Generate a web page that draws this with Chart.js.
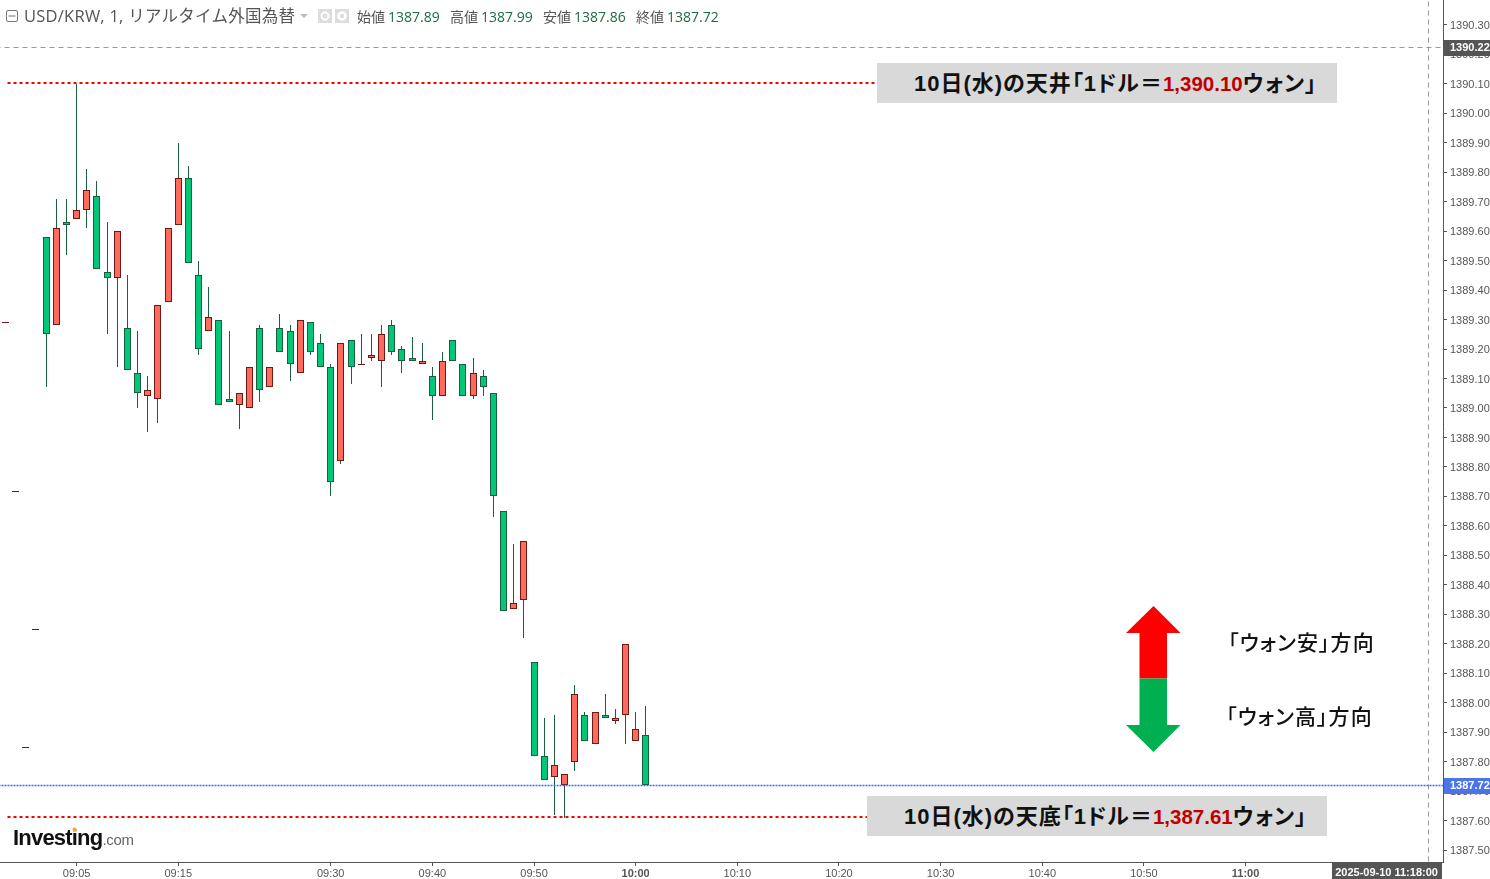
<!DOCTYPE html>
<html lang="ja">
<head>
<meta charset="utf-8">
<title>USD/KRW</title>
<script src="https://cdn.jsdelivr.net/npm/chart.js@4"></script>
<style>
    html, body { margin: 0; padding: 0; background: #fff; }
    #wrap { position: relative; width: 1490px; height: 879px; overflow: hidden; }
    #meuGrafico { position: absolute; left: 0; top: 0; }
    .txt { position: absolute; white-space: nowrap; }
    .head { font-family: 'Open Sans', 'Noto Sans CJK JP', sans-serif; font-size: 16.5px; color: #555; line-height: 18px; letter-spacing: 0.25px; }
    .ohlc { font-family: 'Noto Sans CJK JP', sans-serif; font-size: 14px; color: #555; line-height: 18px; }
    .ohlc span { display: inline-block; width: 93px; }
    .ohlc b { font-family: 'Open Sans', sans-serif; font-size: 14px; font-weight: 400; color: #1b6b45; margin-left: 3px; }
    .box { position: absolute; background: #d9d9d9; height: 40px; width: 460px; box-sizing: border-box;
           font-family: 'Liberation Sans', 'Noto Sans CJK JP', sans-serif; font-weight: 700; font-size: 22px; letter-spacing: 1px; line-height: 41px; color: #111; white-space: nowrap; font-feature-settings: "palt"; }
    .box b { color: #c00000; font-size: 20.5px; letter-spacing: 0; }
    .side { font-family: 'Noto Sans CJK JP', sans-serif; font-weight: 500; font-size: 21px; letter-spacing: 1.1px; color: #111; line-height: 26px; font-feature-settings: "palt"; }
    .logo { font-family: 'Liberation Sans', sans-serif; font-weight: 700; font-size: 22px; color: #111; letter-spacing: -0.8px; }
    .logo span { font-weight: 400; font-size: 15px; color: #666; letter-spacing: -0.3px; }
</style>
</head>
<body>
<div id="wrap">
    <canvas id="meuGrafico" width="1490" height="879"></canvas>

    <svg class="txt" style="left:5px;top:9px" width="14" height="14"><rect x="1.5" y="1.5" width="11" height="11" rx="1.5" fill="none" stroke="#777"/><line x1="3.5" y1="7" x2="10.5" y2="7" stroke="#777"/></svg>
    <div class="txt head" style="left:24px;top:7px">USD/KRW, 1, リアルタイム外国為替</div>
    <svg class="txt" style="left:300px;top:14px" width="8" height="5"><path d="M0 0H8L4 4Z" fill="#bbb"/></svg>
    <svg class="txt" style="left:318px;top:9px" width="32" height="14"><rect width="14" height="14" fill="#ddd"/><circle cx="7" cy="7" r="3.5" fill="none" stroke="#fff" stroke-width="2"/><rect x="17" width="14" height="14" fill="#ddd"/><circle cx="24" cy="7" r="3.5" fill="none" stroke="#fff" stroke-width="2.5"/></svg>
    <div class="txt ohlc" style="left:357px;top:7px"><span>始値<b>1387.89</b></span><span>高値<b>1387.99</b></span><span>安値<b>1387.86</b></span><span>終値<b>1387.72</b></span></div>

    <div class="box" style="left:877px;top:63px;padding-left:37px">10日(水)の天井「1ドル＝<b>1,390.10</b>ウォン」</div>
    <div class="box" style="left:867px;top:796px;padding-left:37px">10日(水)の天底「1ドル＝<b>1,387.61</b>ウォン」</div>

    <svg class="txt" style="left:1126px;top:606px" width="55" height="147">
        <path d="M27.5 0L54.5 27H41V72.5H13.5V27H0Z" fill="#ff0000"/>
        <path d="M13.5 72.5H41V119H54.5L27.5 146L0 119H13.5Z" fill="#00b050"/>
    </svg>
    <div class="txt side" style="left:1228px;top:628px">「ウォン安」方向</div>
    <div class="txt side" style="left:1226px;top:702px">「ウォン高」方向</div>

    <div class="txt logo" style="left:13px;top:825px">Investing<span>.com</span></div>
    <svg class="txt" style="left:72px;top:827px" width="5" height="5"><circle cx="2.5" cy="2.5" r="2" fill="#f5a623"/></svg>
</div>

<script>
// USD/KRW 1 minute, 2025-09-10
const minutes = ['08:58','08:59','09:00','09:01','09:02','09:03','09:04','09:05','09:06','09:07','09:08','09:09','09:10','09:11','09:12','09:13','09:14','09:15','09:16','09:17','09:18','09:19','09:20','09:21','09:22','09:23','09:24','09:25','09:26','09:27','09:28','09:29','09:30','09:31','09:32','09:33','09:34','09:35','09:36','09:37','09:38','09:39','09:40','09:41','09:42','09:43','09:44','09:45','09:46','09:47','09:48','09:49','09:50','09:51','09:52','09:53','09:54','09:55','09:56','09:57','09:58','09:59','10:00','10:01']
const opens = [1389.29,1388.72,1387.85,1388.25,1389.58,1389.28,1389.63,1389.64,1389.67,1389.72,1389.46,1389.44,1389.27,1389.12,1389.04,1389.03,1389.36,1389.62,1389.78,1389.45,1389.26,1389.30,1389.03,1389.01,1389.00,1389.27,1389.07,1389.27,1389.26,1389.12,1389.29,1389.22,1389.14,1388.82,1389.23,1389.15,1389.17,1389.16,1389.28,1389.20,1389.17,1389.15,1389.11,1389.04,1389.23,1389.15,1389.04,1389.11,1389.05,1388.65,1388.32,1388.35,1388.14,1387.82,1387.75,1387.72,1387.80,1387.96,1387.86,1387.96,1387.94,1387.96,1387.87,1387.89]
const highs = [1389.29,1388.72,1387.85,1388.25,1389.58,1389.71,1389.71,1390.10,1389.81,1389.77,1389.63,1389.60,1389.45,1389.26,1389.11,1389.35,1389.61,1389.90,1389.82,1389.50,1389.41,1389.30,1389.26,1389.05,1389.14,1389.28,1389.14,1389.32,1389.28,1389.30,1389.29,1389.25,1389.15,1389.22,1389.23,1389.25,1389.25,1389.28,1389.30,1389.21,1389.24,1389.22,1389.14,1389.19,1389.23,1389.15,1389.17,1389.13,1389.05,1388.65,1388.54,1388.55,1388.14,1387.95,1387.96,1387.76,1388.06,1387.97,1387.97,1388.03,1387.98,1388.20,1387.97,1387.99]
const lows = [1389.29,1388.72,1387.85,1388.25,1389.07,1389.28,1389.52,1389.64,1389.61,1389.47,1389.25,1389.14,1389.13,1389.00,1388.92,1388.95,1389.36,1389.62,1389.49,1389.18,1389.26,1389.01,1389.02,1388.93,1389.00,1389.02,1389.07,1389.19,1389.09,1389.12,1389.18,1389.14,1388.70,1388.81,1389.08,1389.15,1389.16,1389.07,1389.18,1389.12,1389.16,1389.15,1388.96,1389.04,1389.16,1389.04,1389.03,1389.04,1388.63,1388.31,1388.32,1388.22,1387.82,1387.74,1387.62,1387.61,1387.77,1387.87,1387.86,1387.95,1387.93,1387.86,1387.87,1387.72]
const closes = [1389.29,1388.72,1387.85,1388.25,1389.25,1389.61,1389.62,1389.67,1389.74,1389.47,1389.44,1389.60,1389.13,1389.05,1389.06,1389.35,1389.61,1389.78,1389.49,1389.20,1389.31,1389.01,1389.02,1389.05,1389.14,1389.06,1389.14,1389.19,1389.15,1389.30,1389.19,1389.14,1388.75,1389.22,1389.14,1389.15,1389.18,1389.25,1389.19,1389.16,1389.16,1389.16,1389.04,1389.16,1389.16,1389.04,1389.12,1389.07,1388.70,1388.31,1388.34,1388.55,1387.82,1387.74,1387.79,1387.76,1388.03,1387.87,1387.97,1387.95,1387.95,1388.20,1387.91,1387.72]

const timeTicks = ['09:05','09:15','09:30','09:40','09:50','10:00','10:10','10:20','10:30','10:40','10:50','11:00']
const boldTicks = ['10:00','11:00']
const priceTicks = [1387.5,1387.6,1387.7,1387.8,1387.9,1388,1388.1,1388.2,1388.3,1388.4,1388.5,1388.6,1388.7,1388.8,1388.9,1389,1389.1,1389.2,1389.3,1389.4,1389.5,1389.6,1389.7,1389.8,1389.9,1390,1390.1,1390.2,1390.3]

const topPrice = 1390.10
const bottomPrice = 1387.61
const lastPrice = 1387.72
const crossPrice = 1390.224
const crossTime = '11:18'
const crossStamp = '2025-09-10 11:18:00'

function toMin(hhmm){
    const p = hhmm.split(':')
    return Number(p[0]) * 60 + Number(p[1])
}
function toLabel(m){
    const h = Math.floor(m / 60)
    const mm = m % 60
    return String(h).padStart(2, '0') + ':' + String(mm).padStart(2, '0')
}

const wicks = minutes.map((m, i) => ({x: toMin(m), y: [lows[i], highs[i]]}))
const upBodies = []
const downBodies = []
minutes.forEach((m, i) => {
    // this chart paints rising candles red and falling ones green
    const item = {x: toMin(m), y: [opens[i], closes[i]]}
    if (closes[i] >= opens[i]) upBodies.push(item)
    else downBodies.push(item)
})

// snap marks to whole pixels, the original has crisp 1px lines
const snapBars = {
    id: 'snapBars',
    beforeDatasetsDraw(chart){
        chart.data.datasets.forEach((ds, n) => {
            const meta = chart.getDatasetMeta(n)
            if (ds.type === 'line') {
                meta.data.forEach(pt => {
                    pt.x = Math.floor(pt.x) + 0.5
                    pt.y = ds.borderWidth === 2 ? Math.floor(pt.y) : Math.floor(pt.y) + 0.5
                })
                return
            }
            meta.data.forEach(el => {
                el.x = Math.floor(el.x) + 0.5
                const a = Math.round(Math.min(el.y, el.base))
                let b = Math.round(Math.max(el.y, el.base))
                if (b === a) b = a + 1
                el.y = a
                el.base = b
            })
        })
    }
}

// price and time tags on the axes
const tags = {
    id: 'tags',
    afterDraw(chart){
        const c = chart.ctx
        const yS = chart.scales.y
        const xS = chart.scales.x
        function priceTag(val, bg){
            const y = Math.round(yS.getPixelForValue(val))
            c.fillStyle = bg
            c.fillRect(1444, y - 7, 46, 16)
            c.fillStyle = '#fff'
            c.font = 'bold 11px "Liberation Sans"'
            c.textBaseline = 'middle'
            c.textAlign = 'left'
            c.fillText(val.toFixed(2), 1450, y + 1)
        }
        priceTag(crossPrice, '#555555')
        priceTag(lastPrice, '#4a74e8')

        const tx = xS.getPixelForValue(toMin(crossTime))
        c.fillStyle = '#555555'
        c.fillRect(Math.round(tx) - 97, 863, 110, 16)
        c.fillStyle = '#fff'
        c.font = 'bold 11px "Liberation Sans"'
        c.textAlign = 'center'
        c.textBaseline = 'middle'
        c.fillText(crossStamp, tx - 42, 873)
    }
}

const ctx = document.getElementById('meuGrafico')

new Chart(ctx, {
    type: 'bar',
    data: {
        datasets: [
            {type: 'bar', label: 'wick', data: wicks, backgroundColor: '#1b5e3f', barThickness: 1, grouped: false, inflateAmount: 0, order: 3},
            {type: 'bar', label: 'up', data: upBodies, backgroundColor: '#ff6a5f', borderColor: '#6e1a14', borderWidth: 1, borderSkipped: false, barThickness: 7, grouped: false, inflateAmount: 0, order: 2},
            {type: 'bar', label: 'down', data: downBodies, backgroundColor: '#00c878', borderColor: '#1b5e3f', borderWidth: 1, borderSkipped: false, barThickness: 7, grouped: false, inflateAmount: 0, order: 2},
            {type: 'line', label: 'top', data: [{x: 538.2, y: topPrice}, {x: 623.7, y: topPrice}], borderColor: '#ff0000', borderWidth: 2, borderDash: [3, 3], pointRadius: 0, order: 1},
            {type: 'line', label: 'bottom', data: [{x: 538.2, y: bottomPrice}, {x: 622.8, y: bottomPrice}], borderColor: '#ff0000', borderWidth: 2, borderDash: [3, 3], pointRadius: 0, order: 1},
            {type: 'line', label: 'last', data: [{x: 537, y: lastPrice}, {x: 680, y: lastPrice}], borderColor: '#2f6cff', borderWidth: 1.5, borderDash: [2, 1], pointRadius: 0, order: 1},
            {type: 'line', label: 'crossH', data: [{x: 537, y: crossPrice}, {x: 680, y: crossPrice}], borderColor: '#999', borderWidth: 1, borderDash: [5, 4], pointRadius: 0, order: 1},
            {type: 'line', label: 'crossV', data: [{x: toMin(crossTime), y: 1387.4}, {x: toMin(crossTime), y: 1390.5}], borderColor: '#999', borderWidth: 1, borderDash: [5, 4], pointRadius: 0, order: 1}
        ]
    },
    plugins: [snapBars, tags],
    options: {
        responsive: false,
        animation: false,
        layout: {padding: 0},
        plugins: {legend: {display: false}, tooltip: {enabled: false}, title: {display: false}},
        scales: {
            x: {
                type: 'linear',
                min: 537.4643,
                max: 679.422,
                offset: false,
                grid: {display: true, offset: false, drawOnChartArea: false, drawTicks: true, tickLength: 4, color: '#555'},
                border: {color: '#555', width: 1},
                afterFit(axis){
                    axis.height = 17
                    axis.paddingLeft = 0
                    axis.paddingRight = 0
                },
                afterBuildTicks(axis){ axis.ticks = timeTicks.map(t => ({value: toMin(t)})) },
                ticks: {
                    autoSkip: false,
                    maxRotation: 0,
                    padding: 1,
                    color: '#555',
                    font: c => ({family: '"Liberation Sans"', size: 11, weight: c.tick && boldTicks.includes(toLabel(c.tick.value)) ? 'bold' : 'normal'}),
                    callback: value => toLabel(value)
                }
            },
            y: {
                position: 'right',
                min: 1387.4605,
                max: 1390.3835,
                grid: {display: true, drawOnChartArea: false, drawTicks: true, tickLength: 4, color: '#555'},
                border: {color: '#555', width: 1},
                afterFit(axis){
                    axis.width = 47
                    axis.paddingTop = 0
                    axis.paddingBottom = 0
                },
                afterBuildTicks(axis){ axis.ticks = priceTicks.map(v => ({value: v})) },
                ticks: {
                    autoSkip: false,
                    padding: 3,
                    labelOffset: 1,
                    color: '#555',
                    font: {family: '"Liberation Sans"', size: 11},
                    callback: value => value.toFixed(2)
                }
            }
        }
    }
})
</script>
</body>
</html>
